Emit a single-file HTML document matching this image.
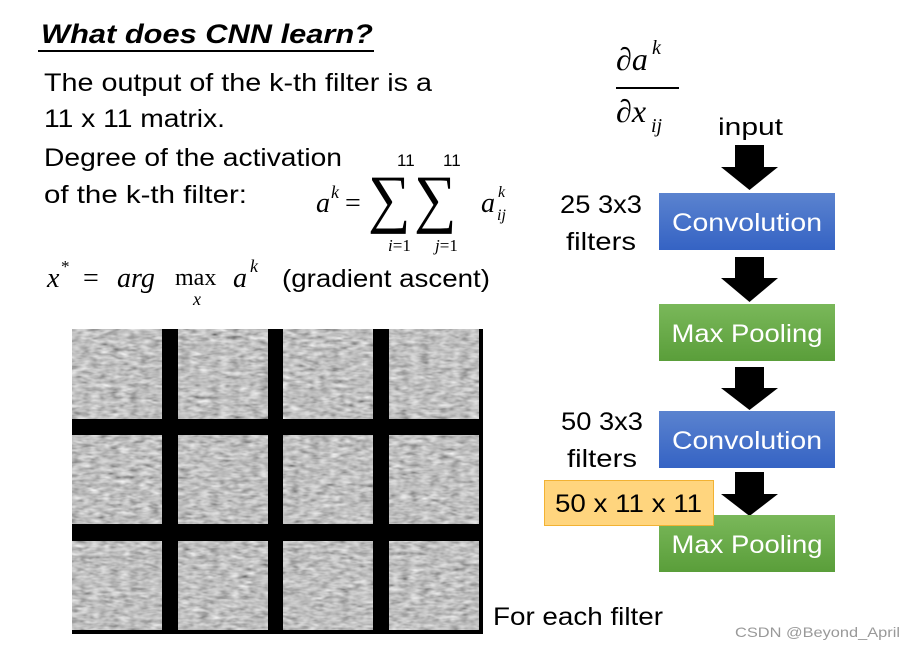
<!DOCTYPE html>
<html><head><meta charset="utf-8"><style>
html,body{margin:0;padding:0;background:#fff;}
svg{display:block;}
</style></head><body>
<svg width="915" height="649" viewBox="0 0 915 649" xmlns="http://www.w3.org/2000/svg" font-family="Liberation Sans, sans-serif">
<defs>
<filter id="tex" x="0" y="0" width="1" height="1" filterUnits="objectBoundingBox">
<feTurbulence type="fractalNoise" baseFrequency="0.1 0.25" numOctaves="2" seed="3"/>
<feColorMatrix type="matrix" values="0.33 0.33 0.33 0 0  0.33 0.33 0.33 0 0  0.33 0.33 0.33 0 0  0 0 0 0 1"/>
<feComponentTransfer><feFuncR type="linear" slope="1.3" intercept="-0.12"/><feFuncG type="linear" slope="1.3" intercept="-0.12"/><feFuncB type="linear" slope="1.3" intercept="-0.12"/></feComponentTransfer>
</filter>
<linearGradient id="blue" x1="0" y1="0" x2="0" y2="1"><stop offset="0" stop-color="#5b83cf"/><stop offset="1" stop-color="#3563c4"/></linearGradient>
<linearGradient id="green" x1="0" y1="0" x2="0" y2="1"><stop offset="0" stop-color="#7ab85a"/><stop offset="1" stop-color="#5a9e3a"/></linearGradient>
</defs>

<text x="41" y="43" font-size="27" font-weight="bold" font-style="italic" textLength="332" lengthAdjust="spacingAndGlyphs">What does CNN learn?</text>
<rect x="38" y="50" width="336" height="2" fill="#000"/>

<text x="44" y="91" font-size="25" textLength="388" lengthAdjust="spacingAndGlyphs">The output of the k-th filter is a</text>
<text x="44" y="127" font-size="25" textLength="181" lengthAdjust="spacingAndGlyphs">11 x 11 matrix.</text>
<text x="44" y="166" font-size="25" textLength="298" lengthAdjust="spacingAndGlyphs">Degree of the activation</text>
<text x="44" y="203" font-size="25" textLength="203" lengthAdjust="spacingAndGlyphs">of the k-th filter:</text>

<g font-family="Liberation Serif, serif">
<text x="316" y="212" font-size="28" font-style="italic">a</text>
<text x="331" y="198" font-size="18" font-style="italic">k</text>
<text x="345" y="212" font-size="28">=</text>
<text transform="translate(368,220) scale(1.1,1.2)" font-size="54">∑</text>
<text transform="translate(414,220) scale(1.1,1.2)" font-size="54">∑</text>
<text x="397" y="166" font-size="17" font-family="Liberation Sans, sans-serif">11</text>
<text x="443" y="166" font-size="17" font-family="Liberation Sans, sans-serif">11</text>
<text x="388" y="251" font-size="17"><tspan font-style="italic">i</tspan>=1</text>
<text x="435" y="251" font-size="17"><tspan font-style="italic">j</tspan>=1</text>
<text x="481" y="212" font-size="28" font-style="italic">a</text>
<text x="498" y="197" font-size="16" font-style="italic">k</text>
<text x="497" y="220" font-size="16" font-style="italic">ij</text>

<text x="616" y="70" font-size="32" font-style="italic">∂a</text>
<text x="652" y="54" font-size="20" font-style="italic">k</text>
<rect x="616" y="87" width="63" height="2" fill="#000"/>
<text x="616" y="122" font-size="32" font-style="italic">∂x</text>
<text x="651" y="132" font-size="20" font-style="italic">ij</text>

<text x="47" y="287" font-size="28" font-style="italic">x</text>
<text x="61" y="272" font-size="17">*</text>
<text x="83" y="287" font-size="28">=</text>
<text x="117" y="287" font-size="28" font-style="italic">arg</text>
<text x="175" y="285" font-size="24">max</text>
<text x="193" y="305" font-size="18" font-style="italic">x</text>
<text x="233" y="287" font-size="28" font-style="italic">a</text>
<text x="250" y="272" font-size="18" font-style="italic">k</text>
</g>
<text x="282" y="287" font-size="25" textLength="208" lengthAdjust="spacingAndGlyphs">(gradient ascent)</text>

<rect x="72" y="329" width="411" height="305" fill="#000"/>
<g fill="#999">
<rect x="72" y="329" width="90" height="90" filter="url(#tex)"/>
<rect x="178" y="329" width="90" height="90" filter="url(#tex)"/>
<rect x="283" y="329" width="90" height="90" filter="url(#tex)"/>
<rect x="389" y="329" width="90" height="90" filter="url(#tex)"/>
<rect x="72" y="435" width="90" height="89" filter="url(#tex)"/>
<rect x="178" y="435" width="90" height="89" filter="url(#tex)"/>
<rect x="283" y="435" width="90" height="89" filter="url(#tex)"/>
<rect x="389" y="435" width="90" height="89" filter="url(#tex)"/>
<rect x="72" y="541" width="90" height="89" filter="url(#tex)"/>
<rect x="178" y="541" width="90" height="89" filter="url(#tex)"/>
<rect x="283" y="541" width="90" height="89" filter="url(#tex)"/>
<rect x="389" y="541" width="90" height="89" filter="url(#tex)"/>
</g>
<text x="493" y="625" font-size="25" textLength="170" lengthAdjust="spacingAndGlyphs">For each filter</text>

<text x="718" y="135" font-size="24" textLength="65" lengthAdjust="spacingAndGlyphs">input</text>
<g fill="#000">
<polygon points="735,145 764,145 764,167 778,167 749.5,190 721,167 735,167"/>
<polygon points="735,257 764,257 764,278 778,278 749.5,302 721,278 735,278"/>
<polygon points="735,367 764,367 764,388 778,388 749.5,410 721,388 735,388"/>
<polygon points="735,472 764,472 764,494 778,494 749.5,516 721,494 735,494"/>
</g>
<rect x="659" y="193" width="176" height="57" fill="url(#blue)"/>
<text x="747" y="231" font-size="25" fill="#fff" text-anchor="middle" textLength="150" lengthAdjust="spacingAndGlyphs">Convolution</text>
<rect x="659" y="304" width="176" height="57" fill="url(#green)"/>
<text x="747" y="342" font-size="25" fill="#fff" text-anchor="middle" textLength="151" lengthAdjust="spacingAndGlyphs">Max Pooling</text>
<rect x="659" y="411" width="176" height="57" fill="url(#blue)"/>
<text x="747" y="449" font-size="25" fill="#fff" text-anchor="middle" textLength="150" lengthAdjust="spacingAndGlyphs">Convolution</text>
<rect x="659" y="515" width="176" height="57" fill="url(#green)"/>
<text x="747" y="553" font-size="25" fill="#fff" text-anchor="middle" textLength="151" lengthAdjust="spacingAndGlyphs">Max Pooling</text>

<text x="560" y="213" font-size="25" textLength="82" lengthAdjust="spacingAndGlyphs">25 3x3</text>
<text x="566" y="250" font-size="25" textLength="70" lengthAdjust="spacingAndGlyphs">filters</text>
<text x="561" y="430" font-size="25" textLength="82" lengthAdjust="spacingAndGlyphs">50 3x3</text>
<text x="567" y="467" font-size="25" textLength="70" lengthAdjust="spacingAndGlyphs">filters</text>

<rect x="544.5" y="480.5" width="169" height="45" fill="#ffd57e" stroke="#f2b233" stroke-width="1"/>
<text x="555" y="512" font-size="25" textLength="147" lengthAdjust="spacingAndGlyphs">50 x 11 x 11</text>

<text x="735" y="637" font-size="14" fill="#999" textLength="165" lengthAdjust="spacingAndGlyphs">CSDN @Beyond_April</text>
</svg>
</body></html>
